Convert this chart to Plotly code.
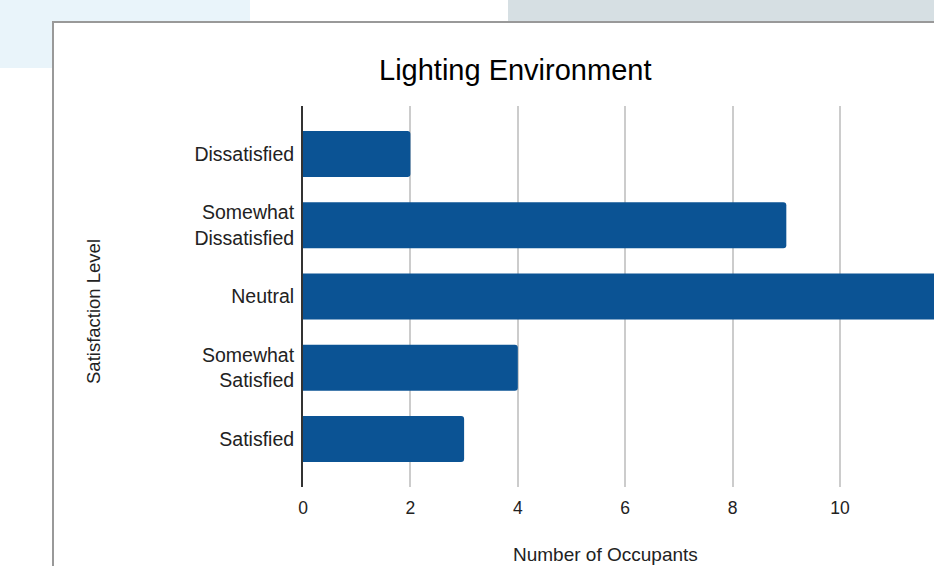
import plotly.graph_objects as go

categories = ["Dissatisfied", "Somewhat<br>Dissatisfied", "Neutral", "Somewhat<br>Satisfied", "Satisfied"]
occupants = [2, 9, 12, 4, 3]
x_ticks = [0, 2, 4, 6, 8, 10]

W, H = 934, 566
L, R, T, B = 303, 934, 106, 487  # plot area in pixels


def px(x):
    return (x - L) / (R - L)


def py(y):
    return (B - y) / (B - T)


FONT = "Liberation Sans, Arial, sans-serif"

fig = go.Figure(
    go.Bar(
        x=occupants,
        y=categories,
        orientation="h",
        marker=dict(color="#0b5394", line=dict(width=0), cornerradius=3),
        width=0.645,
    )
)

shapes = [
    dict(type="rect", xref="paper", yref="paper", x0=px(0), x1=px(250), y0=py(0), y1=py(68),
         fillcolor="#e9f4fa", line=dict(width=0), layer="below"),
    dict(type="rect", xref="paper", yref="paper", x0=px(508), x1=px(940), y0=py(0), y1=py(21),
         fillcolor="#d6dfe3", line=dict(width=0), layer="below"),
    dict(type="rect", xref="paper", yref="paper", x0=px(53), x1=px(960), y0=py(22), y1=py(600),
         fillcolor="#ffffff", line=dict(color="#999999", width=2), layer="below"),
]

annotations = [
    dict(text="Lighting Environment", xref="paper", yref="paper", x=px(514.5), y=py(70),
         xanchor="center", yanchor="middle", showarrow=False,
         font=dict(family=FONT, size=29, color="#000000")),
    dict(text="Satisfaction Level", xref="paper", yref="paper", x=px(93), y=py(312),
         xanchor="center", yanchor="middle", showarrow=False, textangle=-90,
         font=dict(family=FONT, size=18.5, color="#222222")),
    dict(text="Number of Occupants", xref="paper", yref="paper", x=px(605), y=py(554),
         xanchor="center", yanchor="middle", showarrow=False,
         font=dict(family=FONT, size=19, color="#222222")),
]

fig.update_layout(
    width=W,
    height=H,
    margin=dict(l=L, r=W - R, t=T, b=H - B, pad=0),
    paper_bgcolor="#ffffff",
    plot_bgcolor="rgba(0,0,0,0)",
    showlegend=False,
    shapes=shapes,
    annotations=annotations,
    font=dict(family=FONT, size=18, color="#222222"),
    xaxis=dict(
        range=[0, 11.75],
        tickvals=x_ticks,
        showgrid=True,
        gridcolor="#cccccc",
        gridwidth=1.5,
        zeroline=False,
        showline=False,
        ticks="",
        ticklabelstandoff=8,
        tickfont=dict(family=FONT, size=17.5, color="#222222"),
        fixedrange=True,
    ),
    yaxis=dict(
        type="category",
        range=[4.674, -0.674],
        showgrid=False,
        zeroline=False,
        showline=True,
        linecolor="#333333",
        linewidth=2,
        ticks="",
        ticklabelstandoff=3,
        tickfont=dict(family=FONT, size=19.5, color="#222222"),
        fixedrange=True,
    ),
)

fig.write_html("out.html")
